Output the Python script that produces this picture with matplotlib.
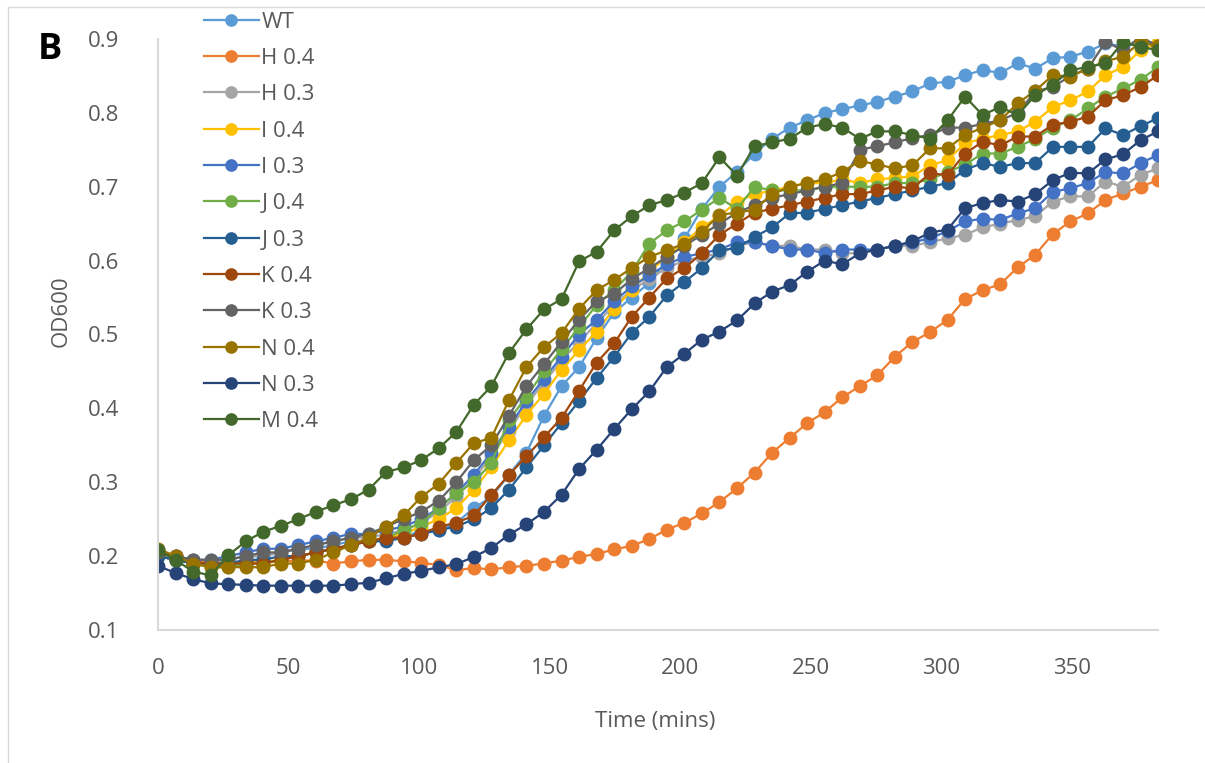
import numpy as np
import matplotlib
matplotlib.use("Agg")
import matplotlib.pyplot as plt
from matplotlib.lines import Line2D

plt.rcParams['font.family'] = ['Open Sans', 'DejaVu Sans']

# time points (mins), one reading every ~6.72 min
time = np.arange(58) * 6.72

labels = ["WT", "H 0.4", "H 0.3", "I 0.4", "I 0.3", "J 0.4",
          "J 0.3", "K 0.4", "K 0.3", "N 0.4", "N 0.3", "M 0.4"]
colors = ["#5B9BD5", "#ED7D31", "#A5A5A5", "#FFC000", "#4472C4", "#70AD47",
          "#255E91", "#9E480E", "#636363", "#997300", "#264478", "#43682B"]

wt = [0.200, 0.195, 0.190, 0.190, 0.195, 0.200, 0.200, 0.205, 0.210, 0.210, 0.215, 0.220, 0.220, 0.225, 0.225,
      0.235, 0.235, 0.245, 0.265, 0.280, 0.310, 0.340, 0.390, 0.430, 0.456, 0.495, 0.530, 0.550, 0.570, 0.600,
      0.630, 0.670, 0.700, 0.720, 0.745, 0.765, 0.780, 0.790, 0.800, 0.805, 0.810, 0.815, 0.822, 0.829, 0.840,
      0.842, 0.851, 0.858, 0.854, 0.867, 0.860, 0.874, 0.876, 0.883, 0.894, 0.890, 0.895, 0.895]
h04 = [0.205, 0.200, 0.195, 0.193, 0.192, 0.192, 0.193, 0.193, 0.194, 0.194, 0.190, 0.193, 0.195, 0.195, 0.193,
       0.191, 0.188, 0.181, 0.184, 0.182, 0.185, 0.187, 0.190, 0.194, 0.199, 0.203, 0.209, 0.214, 0.223, 0.236,
       0.245, 0.258, 0.273, 0.292, 0.313, 0.340, 0.360, 0.380, 0.395, 0.415, 0.430, 0.445, 0.470, 0.490, 0.503,
       0.520, 0.548, 0.560, 0.568, 0.591, 0.608, 0.636, 0.653, 0.664, 0.682, 0.691, 0.700, 0.709]
h03 = [0.200, 0.195, 0.190, 0.190, 0.195, 0.200, 0.200, 0.205, 0.210, 0.215, 0.220, 0.225, 0.225, 0.230, 0.235,
       0.245, 0.260, 0.280, 0.305, 0.335, 0.370, 0.405, 0.435, 0.465, 0.490, 0.515, 0.540, 0.560, 0.575, 0.590,
       0.600, 0.605, 0.610, 0.620, 0.625, 0.620, 0.620, 0.615, 0.615, 0.610, 0.610, 0.615, 0.620, 0.620, 0.625,
       0.630, 0.635, 0.645, 0.650, 0.655, 0.660, 0.680, 0.687, 0.687, 0.707, 0.700, 0.716, 0.725]
i04 = [0.205, 0.198, 0.192, 0.188, 0.188, 0.190, 0.192, 0.195, 0.200, 0.205, 0.210, 0.215, 0.220, 0.225, 0.230,
       0.240, 0.250, 0.265, 0.290, 0.320, 0.357, 0.391, 0.420, 0.452, 0.479, 0.504, 0.535, 0.560, 0.585, 0.605,
       0.625, 0.645, 0.660, 0.680, 0.690, 0.695, 0.700, 0.705, 0.705, 0.710, 0.705, 0.710, 0.712, 0.714, 0.729,
       0.736, 0.759, 0.765, 0.770, 0.775, 0.788, 0.808, 0.817, 0.829, 0.851, 0.862, 0.885, 0.894]
i03 = [0.205, 0.200, 0.195, 0.195, 0.200, 0.205, 0.210, 0.210, 0.215, 0.220, 0.225, 0.230, 0.230, 0.235, 0.240,
       0.250, 0.265, 0.285, 0.310, 0.340, 0.375, 0.410, 0.440, 0.470, 0.500, 0.520, 0.545, 0.565, 0.580, 0.595,
       0.605, 0.610, 0.615, 0.625, 0.625, 0.620, 0.615, 0.615, 0.610, 0.615, 0.615, 0.615, 0.620, 0.625, 0.630,
       0.640, 0.653, 0.657, 0.655, 0.664, 0.671, 0.693, 0.698, 0.705, 0.720, 0.718, 0.732, 0.743]
j04 = [0.200, 0.195, 0.190, 0.185, 0.185, 0.190, 0.190, 0.195, 0.200, 0.205, 0.210, 0.215, 0.220, 0.225, 0.235,
       0.245, 0.265, 0.285, 0.300, 0.326, 0.384, 0.416, 0.450, 0.480, 0.510, 0.540, 0.560, 0.585, 0.623, 0.641,
       0.653, 0.669, 0.685, 0.670, 0.700, 0.695, 0.695, 0.695, 0.700, 0.700, 0.700, 0.700, 0.705, 0.705, 0.710,
       0.720, 0.730, 0.745, 0.745, 0.754, 0.765, 0.780, 0.790, 0.806, 0.822, 0.833, 0.845, 0.862]
j03 = [0.200, 0.195, 0.190, 0.190, 0.190, 0.195, 0.195, 0.200, 0.200, 0.205, 0.210, 0.215, 0.220, 0.220, 0.225,
       0.230, 0.235, 0.240, 0.250, 0.265, 0.290, 0.320, 0.350, 0.380, 0.410, 0.441, 0.470, 0.502, 0.524, 0.553,
       0.571, 0.590, 0.614, 0.617, 0.632, 0.645, 0.664, 0.665, 0.670, 0.675, 0.680, 0.685, 0.690, 0.695, 0.700,
       0.705, 0.723, 0.732, 0.727, 0.732, 0.732, 0.754, 0.754, 0.754, 0.779, 0.770, 0.782, 0.793]
k04 = [0.205, 0.198, 0.192, 0.190, 0.190, 0.190, 0.190, 0.195, 0.200, 0.205, 0.210, 0.215, 0.220, 0.225, 0.225,
       0.230, 0.240, 0.245, 0.255, 0.283, 0.310, 0.335, 0.361, 0.387, 0.424, 0.462, 0.488, 0.524, 0.550, 0.576,
       0.590, 0.610, 0.635, 0.650, 0.665, 0.670, 0.675, 0.680, 0.685, 0.690, 0.690, 0.695, 0.700, 0.698, 0.718,
       0.716, 0.745, 0.761, 0.756, 0.768, 0.768, 0.784, 0.788, 0.795, 0.817, 0.824, 0.835, 0.851]
k03 = [0.205, 0.200, 0.195, 0.195, 0.195, 0.200, 0.205, 0.205, 0.210, 0.215, 0.220, 0.225, 0.230, 0.240, 0.250,
       0.260, 0.275, 0.300, 0.330, 0.350, 0.390, 0.430, 0.460, 0.490, 0.520, 0.545, 0.555, 0.575, 0.590, 0.605,
       0.620, 0.635, 0.650, 0.665, 0.675, 0.685, 0.690, 0.695, 0.700, 0.705, 0.750, 0.755, 0.760, 0.766, 0.770,
       0.780, 0.780, 0.785, 0.790, 0.800, 0.829, 0.835, 0.850, 0.860, 0.896, 0.885, 0.903, 0.890]
n04 = [0.210, 0.200, 0.190, 0.185, 0.185, 0.185, 0.185, 0.190, 0.190, 0.195, 0.205, 0.215, 0.225, 0.240, 0.255,
       0.280, 0.298, 0.326, 0.353, 0.360, 0.411, 0.456, 0.483, 0.502, 0.535, 0.560, 0.574, 0.590, 0.605, 0.614,
       0.623, 0.639, 0.662, 0.665, 0.669, 0.690, 0.700, 0.705, 0.710, 0.720, 0.735, 0.730, 0.725, 0.729, 0.752,
       0.752, 0.770, 0.780, 0.790, 0.813, 0.830, 0.851, 0.849, 0.860, 0.870, 0.876, 0.896, 0.890]
n03 = [0.187, 0.177, 0.169, 0.163, 0.162, 0.161, 0.160, 0.160, 0.160, 0.160, 0.160, 0.162, 0.164, 0.170, 0.176,
       0.180, 0.185, 0.189, 0.199, 0.211, 0.229, 0.243, 0.260, 0.283, 0.318, 0.344, 0.372, 0.399, 0.423, 0.456,
       0.474, 0.493, 0.504, 0.519, 0.542, 0.558, 0.567, 0.585, 0.600, 0.595, 0.610, 0.615, 0.620, 0.626, 0.638,
       0.642, 0.671, 0.678, 0.682, 0.680, 0.690, 0.709, 0.719, 0.718, 0.737, 0.744, 0.763, 0.775]
m04 = [0.208, 0.195, 0.179, 0.174, 0.201, 0.220, 0.233, 0.241, 0.250, 0.260, 0.269, 0.277, 0.290, 0.314, 0.320,
       0.330, 0.346, 0.368, 0.405, 0.430, 0.475, 0.507, 0.534, 0.548, 0.599, 0.612, 0.641, 0.660, 0.675, 0.682,
       0.692, 0.705, 0.740, 0.715, 0.755, 0.760, 0.765, 0.780, 0.785, 0.780, 0.765, 0.775, 0.775, 0.770, 0.765,
       0.790, 0.822, 0.797, 0.808, 0.797, 0.824, 0.838, 0.858, 0.862, 0.867, 0.896, 0.889, 0.885]

series = [wt, h04, h03, i04, i03, j04, j03, k04, k03, n04, n03, m04]

fig = plt.figure(figsize=(12.05, 7.63), dpi=100)
ax = fig.add_axes([158/1205, 1-630/763, 1000/1205, 591/763])

for lab, col, vals in zip(labels, colors, series):
    ax.plot(time, vals, color=col, lw=1.6, marker='o', ms=9, label=lab)

ax.set_xlim(0, 383)
ax.set_ylim(0.1, 0.9)
ax.set_xticks(range(0, 351, 50))
ax.set_yticks(np.arange(0.1, 0.91, 0.1))
ax.set_yticklabels(["%.1f" % v for v in np.arange(0.1, 0.91, 0.1)])
for s in ["top", "right"]:
    ax.spines[s].set_visible(False)
for s in ["left", "bottom"]:
    ax.spines[s].set_color("#D9D9D9")
    ax.spines[s].set_linewidth(1.5)
ax.tick_params(length=0, labelsize=16, colors="#595959")
ax.tick_params(axis='y', pad=28)
ax.tick_params(axis='x', pad=20)

ax.set_ylabel("OD600", fontsize=16, color="#595959")
ax.yaxis.set_label_coords(-0.086, 0.54)
ax.set_xlabel("Time (mins)", fontsize=16, color="#595959")
ax.xaxis.set_label_coords(0.497, -0.137)

leg = ax.legend(loc="upper left", bbox_to_anchor=(188/1205, 1 + 4/763), bbox_transform=fig.transFigure,
                frameon=False, fontsize=16, handlelength=2.5, handletextpad=0.1,
                labelspacing=0.69, labelcolor="#595959", borderpad=0.2, markerscale=0.9)

fig.text(38/1205, 1-50/763, "B", fontsize=26, fontweight="bold", va="center", ha="left")

# thin frame at top and left of the picture
fig.add_artist(Line2D([8/1205, 8/1205], [0, 1-7/763], color="#D9D9D9", lw=1, transform=fig.transFigure))
fig.add_artist(Line2D([8/1205, 1], [1-7/763, 1-7/763], color="#D9D9D9", lw=1, transform=fig.transFigure))

fig.savefig("out.png", dpi=100)
